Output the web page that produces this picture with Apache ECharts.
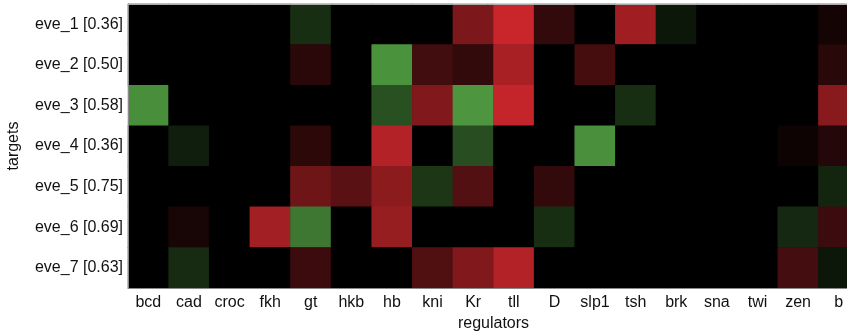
<!DOCTYPE html>
<html><head><meta charset="utf-8">
<script src="https://cdn.jsdelivr.net/npm/echarts@6/dist/echarts.min.js"></script>
<style>html,body{margin:0;padding:0;background:#fff}#c{width:847px;height:336px}</style>
</head><body><div id="c"></div>
<script>
var regulators = ['bcd','cad','croc','fkh','gt','hkb','hb','kni','Kr','tll','D','slp1','tsh','brk','sna','twi','zen','b'];
var targets = ['eve_1 [0.36]','eve_2 [0.50]','eve_3 [0.58]','eve_4 [0.36]','eve_5 [0.75]','eve_6 [0.69]','eve_7 [0.63]'];
// positive = red (activation), negative = green (repression)
var eve_1 = [0,0,0,0,-0.3,0,0,0,0.62,1.0,0.25,0,0.8,-0.15,0,0,0,0.1];
var eve_2 = [0,0,0,0,0.21,0,-0.95,0.33,0.25,0.84,0,0.35,0,0,0,0,0,0.2];
var eve_3 = [-0.92,0,0,0,0,0,-0.52,0.64,-0.97,0.98,0,0,-0.3,0,0,0,0,0.68];
var eve_4 = [0,-0.2,0,0,0.22,0,0.89,0,-0.5,0,0,-0.93,0,0,0,0,0.07,0.18];
var eve_5 = [0,0,0,0,0.55,0.45,0.7,-0.35,0.41,0,0.25,0,0,0,0,0,0,-0.24];
var eve_6 = [0,0.12,0,0.81,-0.77,0,0.75,0,0,0,-0.3,0,0,0,0,0,-0.26,0.3];
var eve_7 = [0,-0.28,0,0,0.3,0,0,0.4,0.64,0.89,0,0,0,0,0,0,0.34,-0.15];
var rows = [eve_1,eve_2,eve_3,eve_4,eve_5,eve_6,eve_7];

var data = [];
rows.forEach(function(r, yi){ r.forEach(function(v, xi){ data.push([xi, yi, v]); }); });

var font = 'Liberation Sans, Arial, Helvetica, sans-serif';
var chart = echarts.init(document.getElementById('c'));
chart.setOption({
  animation: false,
  backgroundColor: '#fff',
  grid: {left: 128, top: 4, width: 731, height: 284, outerBoundsMode: 'none', containLabel: false,
    show: true, backgroundColor: '#000', borderWidth: 0},
  visualMap: {show: false, min: -1, max: 1, dimension: 2,
    inRange: {color: ['#4f9a40', '#000000', '#c8262b']}},
  xAxis: [{
    type: 'category', data: regulators, position: 'bottom', z: 10,
    axisLine: {lineStyle: {color: '#8a8a8a', width: 1}},
    axisTick: {inside: true, alignWithLabel: true, length: 5, lineStyle: {color: '#222'}},
    axisLabel: {color: '#111', fontFamily: font, fontSize: 16, margin: 7},
    splitLine: {show: false},
    name: 'regulators', nameLocation: 'middle', nameGap: 25,
    nameTextStyle: {color: '#111', fontFamily: font, fontSize: 16}
  }, {
    type: 'category', data: regulators, position: 'top', z: 10,
    axisLine: {lineStyle: {color: '#aaaaaa', width: 1}},
    axisTick: {inside: true, alignWithLabel: true, length: 5, lineStyle: {color: '#222'}},
    axisLabel: {show: false}
  }],
  yAxis: {
    type: 'category', data: targets, inverse: true, z: 10,
    axisLine: {lineStyle: {color: '#8a8a8a', width: 1}},
    axisTick: {inside: true, alignWithLabel: true, length: 5, lineStyle: {color: '#222'}},
    axisLabel: {color: '#111', fontFamily: font, fontSize: 16, margin: 5},
    name: 'targets', nameLocation: 'middle', nameGap: 106,
    nameTextStyle: {color: '#111', fontFamily: font, fontSize: 16}
  },
  series: [{
    type: 'heatmap', data: data, xAxisIndex: 0, yAxisIndex: 0,
    itemStyle: {borderWidth: 0},
    emphasis: {disabled: true}
  }]
});
</script></body></html>
